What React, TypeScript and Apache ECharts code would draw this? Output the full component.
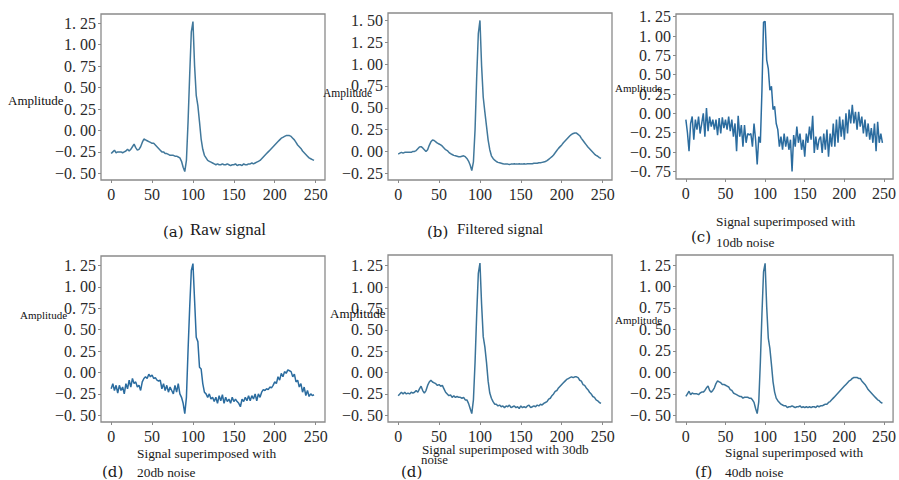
import React, { useEffect, useRef } from "react";
import * as echarts from "echarts";

// x positions are 0, 2, 4, ... 248 (sample index)
const STEP = 2;
const xTicks = [0, 50, 100, 150, 200, 250];

const rawSignal = [
  -0.27, -0.25, -0.23, -0.26, -0.25, -0.25, -0.25, -0.26, -0.25, -0.24,
  -0.22, -0.24, -0.22, -0.19, -0.16, -0.20, -0.23, -0.22, -0.19, -0.14,
  -0.10, -0.11, -0.12, -0.13, -0.14, -0.15, -0.15, -0.17, -0.19, -0.21,
  -0.23, -0.25, -0.25, -0.27, -0.27, -0.28, -0.29, -0.29, -0.29, -0.30,
  -0.30, -0.31, -0.32, -0.36, -0.43, -0.48, -0.35, 0.10, 0.65, 1.15,
  1.27, 0.75, 0.41, 0.29, 0.10, -0.10, -0.22, -0.29, -0.32, -0.35,
  -0.36, -0.37, -0.38, -0.39, -0.40, -0.39, -0.40, -0.40, -0.39, -0.40,
  -0.40, -0.39, -0.40, -0.41, -0.40, -0.40, -0.39, -0.41, -0.40, -0.40,
  -0.41, -0.39, -0.40, -0.40, -0.39, -0.39, -0.38, -0.39, -0.38, -0.37,
  -0.36, -0.35, -0.33, -0.31, -0.29, -0.27, -0.25, -0.23, -0.21, -0.19,
  -0.17, -0.15, -0.13, -0.11, -0.09, -0.08, -0.07, -0.06, -0.06, -0.06,
  -0.07, -0.09, -0.11, -0.14, -0.17, -0.19, -0.21, -0.24, -0.26, -0.28,
  -0.30, -0.32, -0.33, -0.34, -0.35,
];

const filteredSignal = [
  -0.03, -0.02, -0.01, -0.02, -0.01, -0.01, -0.01, -0.01, -0.01, 0.0,
  0.0, 0.01, 0.03, 0.05, 0.055, 0.04, 0.02, 0.0, 0.02, 0.07,
  0.11, 0.13, 0.125, 0.11, 0.095, 0.085, 0.075, 0.06, 0.04, 0.02,
  0.01, -0.01, -0.025, -0.035, -0.045, -0.05, -0.055, -0.06, -0.06, -0.055,
  -0.05, -0.06, -0.08, -0.11, -0.155, -0.22, -0.12, 0.25, 0.85, 1.35,
  1.5, 0.98, 0.62, 0.45, 0.29, 0.13, 0.02, -0.05, -0.08, -0.1,
  -0.115, -0.125, -0.13, -0.135, -0.14, -0.145, -0.145, -0.145, -0.15, -0.145,
  -0.145, -0.14, -0.145, -0.145, -0.14, -0.145, -0.145, -0.14, -0.145, -0.14,
  -0.14, -0.14, -0.14, -0.135, -0.135, -0.135, -0.13, -0.13, -0.125, -0.12,
  -0.115, -0.105, -0.09, -0.075, -0.06, -0.04, -0.015, 0.01, 0.035, 0.055,
  0.075, 0.1, 0.12, 0.14, 0.16, 0.18, 0.195, 0.205, 0.21, 0.21,
  0.195, 0.18, 0.15, 0.125, 0.1, 0.075, 0.05, 0.03, 0.01, -0.01,
  -0.03, -0.045, -0.055, -0.07, -0.08,
];

const noise10db = [
  -0.08, -0.25, -0.49, -0.13, -0.04, -0.34, -0.08, -0.21, -0.04, -0.26,
  -0.13, 0.0, -0.30, 0.07, -0.23, -0.04, -0.17, -0.08, -0.21, -0.08,
  -0.28, -0.06, -0.26, -0.05, -0.19, -0.08, -0.21, -0.04, -0.23, -0.08,
  -0.30, -0.13, -0.49, -0.03, -0.30, -0.15, -0.43, -0.15, -0.38, -0.26,
  -0.28, -0.26, -0.43, -0.13, -0.34, -0.66, -0.30, -0.38, 0.30, 1.18,
  1.19, 0.69, 0.58, 0.30, 0.35, 0.05, 0.09, -0.13, -0.21, -0.43,
  -0.30, -0.47, -0.26, -0.43, -0.30, -0.47, -0.34, -0.75, -0.28, -0.43,
  -0.17, -0.38, -0.26, -0.47, -0.34, -0.56, -0.26, -0.38, -0.17, -0.34,
  -0.03, -0.51, -0.30, -0.47, -0.34, -0.30, -0.51, -0.26, -0.47, -0.21,
  -0.56, -0.26, -0.43, -0.13, -0.43, -0.08, -0.38, -0.04, -0.30, -0.08,
  -0.34, 0.0, -0.26, 0.05, -0.13, 0.11, -0.13, 0.02, -0.21, 0.02,
  -0.17, -0.04, -0.26, -0.08, -0.30, -0.13, -0.34, -0.19, -0.38, -0.13,
  -0.49, -0.11, -0.38, -0.26, -0.38,
];

const noise20db = [
  -0.19, -0.13, -0.21, -0.15, -0.24, -0.15, -0.21, -0.17, -0.25, -0.13,
  -0.19, -0.09, -0.17, -0.07, -0.13, -0.11, -0.17, -0.15, -0.21, -0.11,
  -0.07, -0.05, -0.07, -0.02, -0.05, -0.03, -0.07, -0.06, -0.09, -0.10,
  -0.09, -0.19, -0.13, -0.21, -0.15, -0.23, -0.17, -0.21, -0.25, -0.15,
  -0.23, -0.13, -0.25, -0.29, -0.36, -0.48, -0.29, 0.26, 0.76, 1.19,
  1.27, 0.84, 0.41, 0.36, 0.06, 0.04, -0.13, -0.23, -0.25, -0.29,
  -0.25, -0.31, -0.29, -0.34, -0.29, -0.36, -0.27, -0.33, -0.26, -0.36,
  -0.29, -0.34, -0.31, -0.36, -0.29, -0.34, -0.31, -0.34, -0.36, -0.40,
  -0.31, -0.34, -0.29, -0.33, -0.27, -0.33, -0.27, -0.31, -0.25, -0.33,
  -0.25, -0.29, -0.23, -0.20, -0.21, -0.19, -0.20, -0.17, -0.18, -0.15,
  -0.11, -0.13, -0.05, -0.09, -0.01, -0.05, 0.01, -0.01, 0.03, 0.02,
  0.01, -0.05, -0.02, -0.11, -0.09, -0.17, -0.13, -0.23, -0.17, -0.27,
  -0.21, -0.28, -0.25, -0.27, -0.26,
];

const noise30db = [
  -0.27, -0.25, -0.23, -0.25, -0.23, -0.25, -0.24, -0.25, -0.23, -0.24,
  -0.23, -0.21, -0.23, -0.19, -0.16, -0.21, -0.24, -0.21, -0.15, -0.11,
  -0.09, -0.11, -0.12, -0.13, -0.15, -0.14, -0.16, -0.15, -0.19, -0.23,
  -0.25, -0.27, -0.26, -0.29, -0.27, -0.29, -0.28, -0.29, -0.29, -0.30,
  -0.29, -0.32, -0.32, -0.36, -0.42, -0.48, -0.32, 0.12, 0.68, 1.16,
  1.28, 0.80, 0.42, 0.30, 0.12, -0.10, -0.24, -0.30, -0.34, -0.37,
  -0.37, -0.39, -0.38, -0.40, -0.39, -0.41, -0.39, -0.40, -0.38, -0.41,
  -0.40, -0.39, -0.41, -0.40, -0.42, -0.39, -0.41, -0.40, -0.41, -0.39,
  -0.38, -0.41, -0.40, -0.39, -0.40, -0.38, -0.39, -0.37, -0.38, -0.36,
  -0.35, -0.34, -0.31, -0.30, -0.27, -0.25, -0.22, -0.21, -0.18, -0.16,
  -0.14, -0.12, -0.10, -0.08, -0.07, -0.06, -0.05, -0.06, -0.05, -0.05,
  -0.06, -0.09, -0.10, -0.14, -0.15, -0.18, -0.20, -0.23, -0.25, -0.28,
  -0.29, -0.32, -0.33, -0.35, -0.36,
];

const noise40db = [
  -0.28, -0.25, -0.22, -0.26, -0.24, -0.25, -0.25, -0.25, -0.26, -0.24,
  -0.23, -0.23, -0.21, -0.18, -0.16, -0.21, -0.23, -0.21, -0.18, -0.13,
  -0.10, -0.11, -0.12, -0.14, -0.14, -0.15, -0.16, -0.17, -0.20, -0.21,
  -0.24, -0.25, -0.26, -0.27, -0.28, -0.28, -0.30, -0.29, -0.29, -0.29,
  -0.30, -0.30, -0.32, -0.35, -0.42, -0.48, -0.34, 0.12, 0.68, 1.17,
  1.27, 0.76, 0.40, 0.28, 0.09, -0.11, -0.23, -0.30, -0.33, -0.35,
  -0.37, -0.38, -0.39, -0.39, -0.41, -0.40, -0.40, -0.39, -0.40, -0.41,
  -0.40, -0.40, -0.39, -0.41, -0.40, -0.41, -0.40, -0.41, -0.40, -0.41,
  -0.40, -0.40, -0.41, -0.39, -0.40, -0.39, -0.39, -0.38, -0.37, -0.37,
  -0.35, -0.34, -0.32, -0.30, -0.28, -0.26, -0.24, -0.22, -0.20, -0.18,
  -0.16, -0.14, -0.12, -0.10, -0.09, -0.07, -0.06, -0.06, -0.06, -0.07,
  -0.07, -0.10, -0.12, -0.14, -0.17, -0.20, -0.22, -0.24, -0.26, -0.28,
  -0.30, -0.32, -0.33, -0.35, -0.36,
];

const yTicksA = [-0.5, -0.25, 0, 0.25, 0.5, 0.75, 1.0, 1.25];
const yTicksB = [-0.25, 0, 0.25, 0.5, 0.75, 1.0, 1.25, 1.5];
const yTicksC = [-0.75, -0.5, -0.25, 0, 0.25, 0.5, 0.75, 1.0, 1.25];

const panels = [
  { data: rawSignal, yTicks: yTicksA, yMin: -0.578, yMax: 1.358, box: [101, 14, 224, 166], color: "#41789b" },
  { data: filteredSignal, yTicks: yTicksB, yMin: -0.327, yMax: 1.585, box: [388, 13, 224, 167], color: "#41789b" },
  { data: noise10db, yTicks: yTicksC, yMin: -0.848, yMax: 1.285, box: [676, 14, 221, 165], color: "#2b6c9f" },
  { data: noise20db, yTicks: yTicksA, yMin: -0.578, yMax: 1.359, box: [101, 256, 224, 166], color: "#2b6c9f" },
  { data: noise30db, yTicks: yTicksA, yMin: -0.578, yMax: 1.375, box: [388, 255, 224, 167], color: "#3a7399" },
  { data: noise40db, yTicks: yTicksA, yMin: -0.578, yMax: 1.367, box: [676, 255, 221, 167], color: "#3a7399" },
];

const ampLabels = [
  { x: 8, y: 100, size: 13 },
  { x: 323, y: 93, size: 11.5 },
  { x: 615, y: 88, size: 11 },
  { x: 20, y: 315, size: 11 },
  { x: 330, y: 313, size: 13 },
  { x: 615, y: 320, size: 11 },
];

const captions = [
  { text: "(a)", x: 163, y: 232, size: 15, fam: "DejaVu Serif" },
  { text: "Raw signal", x: 190, y: 229, size: 17, fam: "Liberation Serif" },
  { text: "(b)", x: 427, y: 232, size: 15, fam: "DejaVu Serif" },
  { text: "Filtered signal", x: 457, y: 229, size: 15, fam: "Liberation Serif" },
  { text: "Signal superimposed with", x: 716, y: 221, size: 13.4, fam: "Liberation Serif" },
  { text: "(c)", x: 691, y: 237, size: 15, fam: "DejaVu Serif" },
  { text: "10db noise", x: 716, y: 242, size: 13.4, fam: "Liberation Serif" },
  { text: "Signal superimposed with", x: 137, y: 453, size: 13.4, fam: "Liberation Serif" },
  { text: "(d)", x: 102, y: 472, size: 15, fam: "DejaVu Serif" },
  { text: "20db noise", x: 137, y: 472, size: 13.4, fam: "Liberation Serif" },
  { text: "Signal superimposed with 30db", x: 422, y: 449, size: 13.2, fam: "Liberation Serif" },
  { text: "(d)", x: 401, y: 472, size: 15, fam: "DejaVu Serif" },
  { text: "noise", x: 421, y: 460, size: 12.8, fam: "Liberation Serif" },
  { text: "Signal superimposed with", x: 725, y: 452, size: 13.3, fam: "Liberation Serif" },
  { text: "(f)", x: 695, y: 472, size: 15, fam: "DejaVu Serif" },
  { text: "40db noise", x: 725, y: 472, size: 13.4, fam: "Liberation Serif" },
];

const fmtY = (v: number) => {
  const s = Math.abs(v).toFixed(2).replace(".", ". ");
  return (v < -1e-9 ? "\u2212" : "") + s;
};

export default function App() {
  const ref = useRef<HTMLDivElement>(null);
  useEffect(() => {
    if (!ref.current) return;
    const chart = echarts.init(ref.current, undefined, { renderer: "svg" });
    const axisColor = "#8a8a8a";
    const labelFont = { fontFamily: "Liberation Serif", fontSize: 16, color: "#2a2a2a" };
    const grid = panels.map((p) => ({
      left: p.box[0],
      top: p.box[1],
      width: p.box[2],
      height: p.box[3],
      show: true,
      borderColor: axisColor,
      borderWidth: 1.3,
      backgroundColor: "#ffffff",
      containLabel: false,
    }));
    const xAxis = panels.map((p, i) => ({
      type: "value",
      gridIndex: i,
      min: -12.45,
      max: 261.45,
      splitLine: { show: false },
      axisLine: { show: false, onZero: false },
      axisTick: { show: true, length: 3, lineStyle: { color: axisColor }, customValues: xTicks },
      axisLabel: { ...labelFont, margin: 6, customValues: xTicks, formatter: (v: number) => String(Math.round(v)) },
    }));
    const yAxis = panels.map((p, i) => ({
      type: "value",
      gridIndex: i,
      min: p.yMin,
      max: p.yMax,
      splitLine: { show: false },
      axisLine: { show: false, onZero: false },
      axisTick: { show: true, length: 3, lineStyle: { color: axisColor }, customValues: p.yTicks },
      axisLabel: { ...labelFont, margin: 5, customValues: p.yTicks, formatter: fmtY },
    }));
    const series = panels.map((p, i) => ({
      type: "line",
      xAxisIndex: i,
      yAxisIndex: i,
      showSymbol: false,
      symbol: "none",
      lineStyle: { width: 1.5, color: p.color },
      data: p.data.map((v, k) => [k * STEP, v]),
      z: 3,
    }));
    const graphic: any[] = [];
    ampLabels.forEach((a) => {
      graphic.push({
        type: "text",
        x: a.x,
        y: a.y,
        z: 10,
        style: {
          text: "Amplitude",
          fontFamily: "Liberation Serif",
          fontSize: a.size,
          fill: "#111111",
          textVerticalAlign: "middle",
          verticalAlign: "middle",
        },
      });
    });
    captions.forEach((c) => {
      graphic.push({
        type: "text",
        x: c.x,
        y: c.y,
        z: 10,
        style: {
          text: c.text,
          fontFamily: c.fam,
          fontSize: c.size,
          fill: "#1a1a1a",
          textVerticalAlign: "middle",
          verticalAlign: "middle",
        },
      });
    });
    chart.setOption({
      animation: false,
      backgroundColor: "#ffffff",
      grid,
      xAxis,
      yAxis,
      series,
      graphic,
    } as any);
    return () => chart.dispose();
  }, []);
  return (
    <div
      ref={ref}
      style={{ position: "fixed", left: 0, top: 0, width: 899, height: 480, background: "#fff" }}
    />
  );
}
